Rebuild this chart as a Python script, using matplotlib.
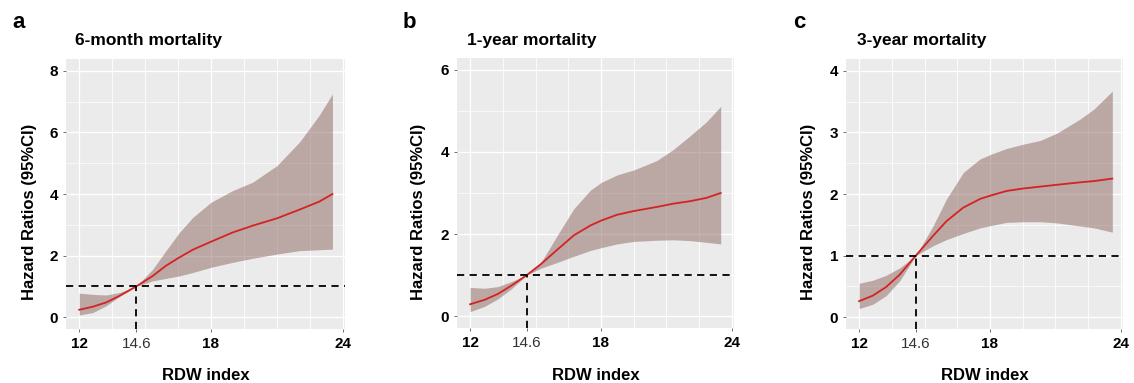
import matplotlib
matplotlib.use("Agg")
import matplotlib.pyplot as plt

# (RDW index vs hazard ratio, restricted cubic spline fits)
panel_letters = ["a", "b", "c"]
titles = ["6-month mortality", "1-year mortality", "3-year mortality"]

x_a = [12.0, 12.62, 13.23, 13.83, 14.6, 15.35, 15.95, 16.56, 17.17, 18.0, 18.98, 19.89, 21.0, 22.02, 22.92, 23.53]
hr_a = [0.24, 0.34, 0.48, 0.69, 1.0, 1.34, 1.67, 1.94, 2.19, 2.45, 2.75, 2.97, 3.21, 3.49, 3.75, 4.0]
hi_a = [0.78, 0.74, 0.72, 0.80, 1.0, 1.56, 2.16, 2.75, 3.24, 3.73, 4.11, 4.38, 4.92, 5.68, 6.55, 7.25]
lo_a = [0.07, 0.15, 0.37, 0.67, 1.0, 1.18, 1.26, 1.34, 1.45, 1.62, 1.78, 1.91, 2.05, 2.16, 2.19, 2.21]

x_b = [12.0, 12.67, 13.27, 13.88, 14.6, 15.25, 16.0, 16.76, 17.52, 18.02, 18.74, 19.5, 20.56, 21.32, 22.08, 22.83, 23.49]
hr_b = [0.29, 0.40, 0.54, 0.74, 1.0, 1.27, 1.62, 1.97, 2.21, 2.33, 2.47, 2.56, 2.66, 2.74, 2.80, 2.88, 3.0]
hi_b = [0.70, 0.68, 0.72, 0.84, 1.0, 1.31, 1.97, 2.62, 3.07, 3.26, 3.44, 3.56, 3.79, 4.06, 4.39, 4.73, 5.11]
lo_b = [0.11, 0.24, 0.42, 0.66, 1.0, 1.17, 1.31, 1.46, 1.60, 1.67, 1.76, 1.82, 1.85, 1.86, 1.84, 1.80, 1.76]

x_c = [12.0, 12.63, 13.24, 13.86, 14.6, 15.39, 16.01, 16.78, 17.55, 18.08, 18.77, 19.54, 20.31, 21.08, 22.15, 22.77, 23.61]
hr_c = [0.26, 0.35, 0.49, 0.69, 1.0, 1.32, 1.56, 1.78, 1.92, 1.98, 2.05, 2.09, 2.12, 2.15, 2.19, 2.21, 2.25]
hi_c = [0.55, 0.60, 0.68, 0.80, 1.0, 1.48, 1.92, 2.35, 2.57, 2.65, 2.74, 2.81, 2.87, 2.99, 3.22, 3.38, 3.67]
lo_c = [0.14, 0.21, 0.35, 0.59, 1.0, 1.16, 1.26, 1.36, 1.45, 1.49, 1.54, 1.55, 1.55, 1.53, 1.48, 1.45, 1.38]

y_tops = [8, 6, 4]
y_majors = [[0, 2, 4, 6, 8], [0, 2, 4, 6], [0, 1, 2, 3, 4]]
y_minors = [[1, 3, 5, 7], [1, 3, 5], [0.5, 1.5, 2.5, 3.5]]
x_ticks = [12, 14.6, 18, 24]
x_grid = [12, 13.5, 15, 16.5, 18, 19.5, 21, 22.5, 24]
ref_rdw = 14.6

series = [(x_a, hr_a, lo_a, hi_a), (x_b, hr_b, lo_b, hi_b), (x_c, hr_c, lo_c, hi_c)]

W, H = 1134, 383
fig = plt.figure(figsize=(W / 100, H / 100), dpi=100)
plt.rcParams["font.family"] = ["Liberation Sans", "DejaVu Sans"]

# axes boxes in pixels: left, right, top, bottom
boxes = [(66, 345, 59, 329), (457, 734, 58, 328), (846, 1123, 59, 329)]
ylab_x = [30, 419, 809]
letter_x = [12, 403, 793]
title_x = [75, 467, 857]

for i, (xs, hr, lo, hi) in enumerate(series):
    l, r, t, b = boxes[i]
    ax = fig.add_axes([l / W, 1 - b / H, (r - l) / W, (b - t) / H])
    ax.set_facecolor("#ebebeb")
    for s in ax.spines.values():
        s.set_visible(False)

    top = y_tops[i]
    pad = top * 0.048
    ax.set_xlim(11.4, 24.1)
    ax.set_ylim(-pad, top + pad)

    for g in x_grid:
        ax.axvline(g, color="white", lw=0.9 if g in (12, 18, 24) else 0.6, zorder=0)
    for g in y_majors[i]:
        ax.axhline(g, color="white", lw=1.0, zorder=0)
    for g in y_minors[i]:
        ax.axhline(g, color="white", lw=0.5, zorder=0)

    ax.fill_between(xs, lo, hi, color="#8d655d", alpha=0.5, lw=0, zorder=1)
    ax.plot(xs, hr, color="#d42323", lw=1.3, zorder=3)

    ax.axhline(1, color="black", lw=1.3, ls=(0, (4, 3)), zorder=4)
    ax.plot([ref_rdw, ref_rdw], [-pad, 1], color="black", lw=1.3, ls=(0, (4, 3)),
            zorder=4, clip_on=False)

    ax.set_yticks(y_majors[i])
    ax.set_yticklabels([str(v) for v in y_majors[i]], fontsize=11, fontweight="bold")
    ax.set_xticks(x_ticks)
    labels = ax.set_xticklabels(["12", "14.6", "18", "24"], fontsize=11)
    for k, lab in enumerate(labels):
        if k == 1:
            lab.set_color("#333333")
        else:
            lab.set_fontweight("bold")
    ax.tick_params(axis="both", length=2.5, width=0.6, color="#555555", pad=3)

    fig.text(ylab_x[i] / W, 1 - 212 / H, "Hazard Ratios (95%CI)",
             rotation=90, ha="center", va="center", fontsize=12, fontweight="bold")
    fig.text(((l + r) / 2) / W, 1 - 376 / H, "RDW index",
             ha="center", va="center", fontsize=12, fontweight="bold")
    fig.text(title_x[i] / W, 1 - 40 / H, titles[i],
             ha="left", va="center", fontsize=12.5, fontweight="bold")
    fig.text(letter_x[i] / W, 1 - 22 / H, panel_letters[i],
             ha="left", va="center", fontsize=16, fontweight="bold")

fig.savefig("out.png", dpi=100, facecolor="white")
